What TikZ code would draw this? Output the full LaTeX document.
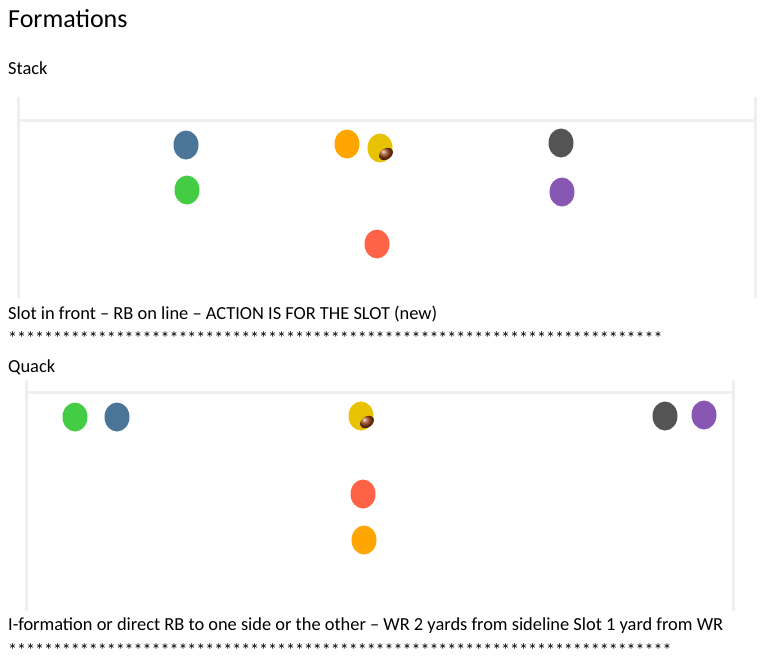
\documentclass[tikz,border=0pt]{standalone}
\usepackage{fontspec}
\setmainfont{Carlito}
\usetikzlibrary{shapes.geometric}
\definecolor{fieldline}{HTML}{EFEFEF}
\definecolor{pblue}{HTML}{4A7599}
\definecolor{porange}{HTML}{FFA500}
\definecolor{pyellow}{HTML}{E6C200}
\definecolor{pdark}{HTML}{545454}
\definecolor{pgreen}{HTML}{44CC44}
\definecolor{ppurple}{HTML}{8757B3}
\definecolor{pred}{HTML}{FF6347}
\definecolor{pball}{HTML}{9A4415}
\newcommand{\starrow}[1]{\foreach \k in {1,...,#1}{*}}
\tikzset{
  player/.style={ellipse,fill=#1,minimum width=25pt,minimum height=29pt,inner sep=0pt},
  ball/.style={ellipse,ball color=pball,minimum width=15pt,minimum height=11pt,inner sep=0pt,rotate=35},
  field/.style={draw=fieldline,line width=3pt},
  txt/.style={anchor=base west,inner sep=0pt,font=\fontsize{18.4}{22}\selectfont},
  starline/.style={anchor=base west,inner sep=0pt,font=\fontsize{18}{22}\selectfont}
}
\begin{document}
\begin{tikzpicture}[x=1pt,y=-1pt]
\useasboundingbox (0,0) rectangle (784,665);
\node[anchor=base west,inner sep=0pt,font=\fontsize{26}{30}\selectfont] (title) at (8,27) {Formations};
% stack
\node[txt] (stack) at (8,74) {Stack};
\draw[field] (18,97)--(18,298) (755,97)--(755,298) (18,120)--(755,120);
\node[player=pblue] (wrl) at (186,145) {};
\node[player=porange] (slot) at (347,144) {};
\node[player=pyellow] (qb) at (380,148) {};
\node[ball] (fb) at (386,154) {};
\node[player=pdark] (wrr) at (561,143) {};
\node[player=pgreen] (tel) at (187,190) {};
\node[player=ppurple] (ter) at (562,192) {};
\node[player=pred] (rb) at (377,244) {};
\node[txt] (note1) at (8,319) {Slot in front – RB on line – ACTION IS FOR THE SLOT (new)};
\node[starline] (stars1) at (8,344) {\starrow{73}};
% quack
\node[txt] (quack) at (8,372) {Quack};
\draw[field] (26,380)--(26,611) (733,380)--(733,611) (26,392)--(733,392);
\node[player=pgreen] (qwrl) at (75,417) {};
\node[player=pblue] (qslotl) at (117,417) {};
\node[player=pyellow] (qqb) at (361,416) {};
\node[ball] (qfb) at (367,422) {};
\node[player=pdark] (qslotr) at (665,416) {};
\node[player=ppurple] (qwrr) at (704,415) {};
\node[player=pred] (qrb) at (363,494) {};
\node[player=porange] (qfull) at (364,540) {};
\node[txt] (note2) at (8,630) {I-formation or direct RB to one side or the other – WR 2 yards from sideline Slot 1 yard from WR};
\node[starline] (stars2) at (8,656) {\starrow{74}};
\end{tikzpicture}
\end{document}
